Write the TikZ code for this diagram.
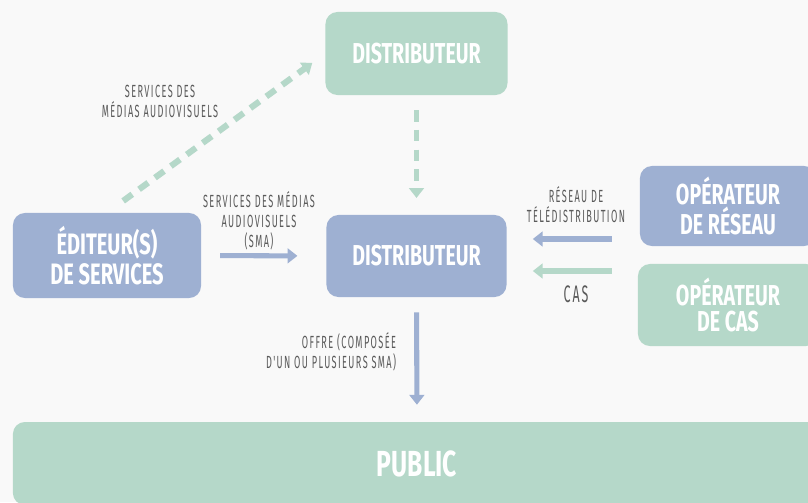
\documentclass[tikz,border=0pt]{standalone}
\usepackage{fontspec}
\newfontfamily\blockfont[FakeStretch=0.68]{Fira Sans}
\newfontfamily\notefont[FakeStretch=0.52,LetterSpace=8]{Fira Sans}
\usetikzlibrary{arrows.meta,positioning}
\definecolor{paper}{HTML}{F9F9F9}
\definecolor{periwinkle}{HTML}{9EB0D2}
\definecolor{sage}{HTML}{B5D8C9}
\definecolor{notegray}{HTML}{5A5A5A}
\tikzset{block/.style={rounded corners=0.3cm,text=white,align=center,inner sep=0pt,font=\blockfont\bfseries\fontsize{20.5}{21.3}\selectfont},bluebox/.style={block,fill=periwinkle},greenbox/.style={block,fill=sage},arr/.style={line width=3.6pt,-{Triangle[length=7pt,width=10.5pt]}},dasharr/.style={arr,dash pattern=on 8pt off 6pt},note/.style={font=\notefont\fontsize{12.5}{14.2}\selectfont,text=notegray,align=center}}
\begin{document}
\begin{tikzpicture}[x=0.025cm,y=-0.025cm]
\fill[paper] (0,0) rectangle (808,502);
\useasboundingbox (0,0) rectangle (808,502);
\node[greenbox,minimum width=4.55cm,minimum height=2.075cm] (topdist) at (416.5,53.5) {DISTRIBUTEUR};
\node[bluebox,minimum width=4.5cm,minimum height=2.05cm] (middist) at (416.5,256) {DISTRIBUTEUR};
\node[bluebox,minimum width=4.7cm,minimum height=2.125cm,font=\blockfont\bfseries\fontsize{21}{21.3}\selectfont] (edit) at (107,255.5) {ÉDITEUR(S)\\DE SERVICES};
\node[bluebox,minimum width=4.4cm,minimum height=2cm,font=\blockfont\bfseries\fontsize{20.5}{19.1}\selectfont] (opres) at (728,206) {OPÉRATEUR\\DE RÉSEAU};
\node[greenbox,minimum width=4.5cm,minimum height=2.05cm,font=\blockfont\bfseries\fontsize{20.5}{19.1}\selectfont] (opcas) at (728,305) {OPÉRATEUR\\DE CAS};
\node[greenbox,minimum width=20.2cm,minimum height=2.075cm,font=\blockfont\bfseries\fontsize{25.8}{27}\selectfont] (public) at (417,463.5) {PUBLIC};
% flux
\draw[dasharr,sage,line width=4.4pt,shorten <=0.5cm,shorten >=0.4cm] (edit.north) -- (topdist.west);
\draw[dasharr,sage,shorten <=0.375cm,shorten >=0.42cm] (topdist.south) -- (middist.north);
\draw[arr,periwinkle,shorten <=0.47cm,shorten >=0.72cm] (edit.east) -- (middist.west);
\draw[arr,periwinkle,shorten <=0.7cm,shorten >=0.65cm] ([yshift=0.425cm]middist.east -| opres.west) -- ([yshift=0.425cm]middist.east);
\draw[arr,sage,shorten <=0.65cm,shorten >=0.65cm] ([yshift=-0.375cm]middist.east -| opcas.west) -- ([yshift=-0.375cm]middist.east);
\draw[arr,periwinkle,shorten <=0.375cm,shorten >=0.425cm] (middist.south) -- (public.north);
% libellés
\node[note] (lbldiag) at (160,101) {SERVICES DES\\MÉDIAS AUDIOVISUELS};
\node[note] (lblsma) at (259,221) {SERVICES DES MÉDIAS\\AUDIOVISUELS\\(SMA)};
\node[note] (lblres) at (576,205) {RÉSEAU DE\\TÉLÉDISTRIBUTION};
\node[note,font=\notefont\fontsize{17}{18}\selectfont] (lblcas) at (576,294) {CAS};
\node[note,anchor=east,align=right] (lbloffre) at (401,352) {OFFRE (COMPOSÉE\\D'UN OU PLUSIEURS SMA)};
\end{tikzpicture}
\end{document}
